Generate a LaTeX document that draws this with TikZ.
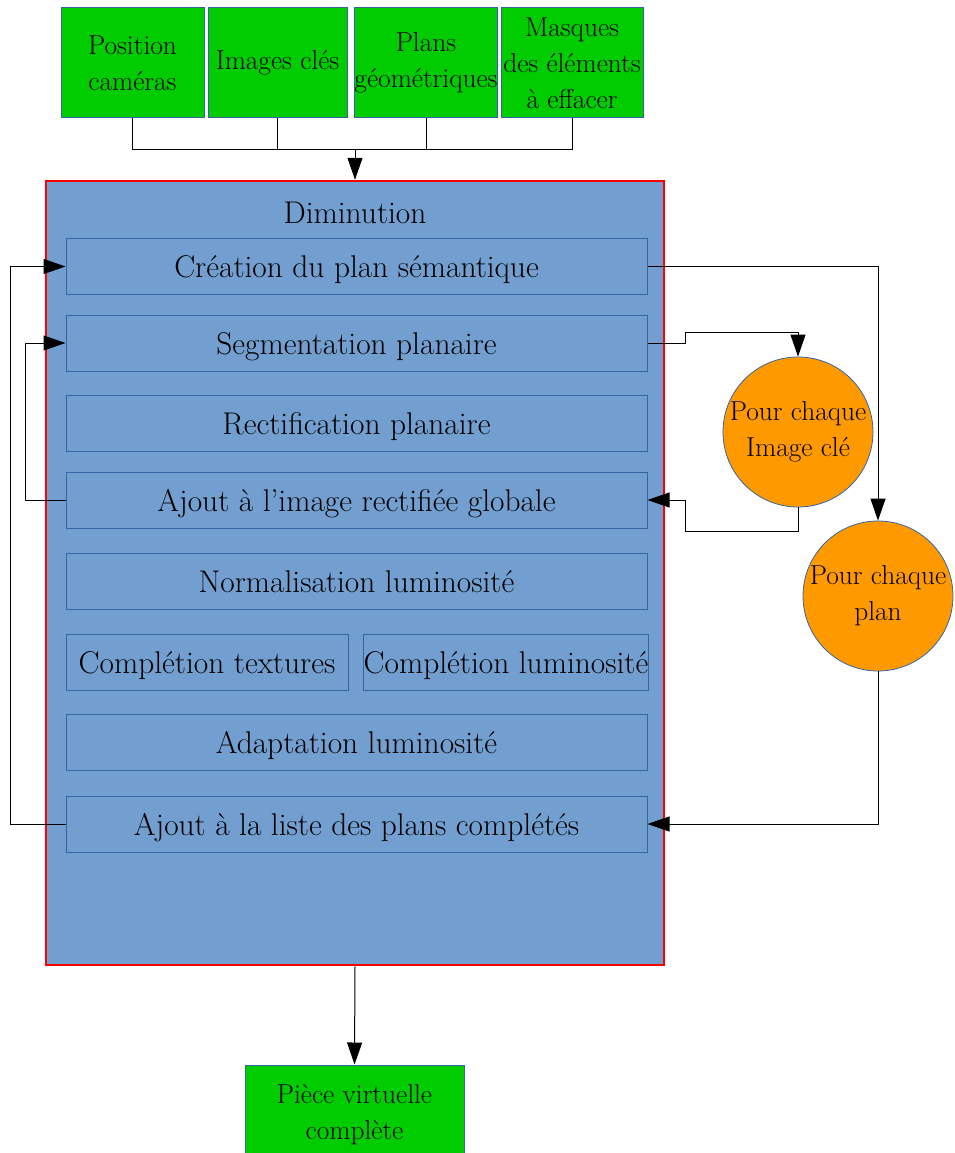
\documentclass[tikz,border=0pt]{standalone}
\usetikzlibrary{arrows.meta}
\definecolor{vert}{HTML}{00CC00}
\definecolor{orangec}{HTML}{FF9900}
\definecolor{bleu}{HTML}{729FCF}
\definecolor{bleuf}{HTML}{3465A4}
\newcommand\fsm{\fontsize{27.4}{36}\selectfont}
\newcommand\flg{\fontsize{31.4}{36}\selectfont}
\begin{document}
\begin{tikzpicture}[x=1pt,y=-1pt,
  greenbox/.style={draw=bleuf, line width=1pt, fill=vert, inner sep=0pt, align=center, font=\fsm, minimum height=110pt},
  bigbox/.style={draw=red, line width=2.5pt, fill=bleu, inner sep=0pt, minimum width=618pt, minimum height=784pt},
  stepbox/.style={draw=bleuf, line width=1pt, fill=bleu, inner sep=0pt, font=\flg, minimum width=581pt, minimum height=56pt, text height=22pt, text depth=0pt},
  halfbox/.style={stepbox, minimum width=282pt},
  loopcirc/.style={circle, draw=bleuf, line width=0.8pt, fill=orangec, inner sep=0pt, minimum size=150pt, align=center, font=\fsm},
  arr/.style={draw=black, line width=1pt, -{Triangle[length=22pt,width=15pt]}},
  ln/.style={draw=black, line width=1pt}]
\useasboundingbox (0,0) rectangle (954,1153);
% inputs
\node[greenbox, minimum width=143pt] (pos) at (132.5,63) {Position\\caméras};
\node[greenbox, minimum width=139pt] (img) at (277.5,63) {Images clés};
\node[greenbox, minimum width=142pt] (geo) at (426,63) {Plans\\géométriques};
\node[greenbox, minimum width=142pt] (mas) at (572,63) {Masques\\des éléments\\à effacer};
% main box
\node[bigbox] (dim) at (355,573) {};
\node[font=\flg] (dimt) at (355,213) {Diminution};
\node[stepbox] (r1) at (356.5,266.5) {Création du plan sémantique};
\node[stepbox] (r2) at (356.5,343) {Segmentation planaire};
\node[stepbox] (r3) at (356.5,423.5) {Rectification planaire};
\node[stepbox] (r4) at (356.5,500) {Ajout à l’image rectifiée globale};
\node[stepbox] (r5) at (356.5,581) {Normalisation luminosité};
\node[halfbox] (r6a) at (207,662) {Complétion textures};
\node[halfbox] (r6b) at (506,662) {Complétion luminosité};
\node[stepbox] (r7) at (356.5,742.5) {Adaptation luminosité};
\node[stepbox] (r8) at (356.5,824) {Ajout à la liste des plans complétés};
% loops
\node[loopcirc] (c1) at (798,432) {Pour chaque\\Image clé};
\node[loopcirc] (c2) at (878,596) {Pour chaque\\plan};
% output
\node[greenbox, minimum width=219pt, minimum height=100pt] (out) at (354.5,1115) {Pièce virtuelle\\complète};
% connectors
\coordinate (j) at (355,149);
\draw[ln] (pos.south) |- (j);
\draw[ln] (img.south) |- (j);
\draw[ln] (geo.south) |- (j);
\draw[ln] (mas.south) |- (j);
\draw[arr] (j) -- (dim.north);
\draw[arr] (r1.east) -| (c2.north);
\draw[arr] (r2.east) -- ++(38,0) -- ++(0,-11) -| (c1.north);
\draw[arr] (c1.south) -- ++(0,24) -| ([xshift=38pt]r4.east) -- (r4.east);
\draw[arr] (c2.south) |- (r8.east);
\draw[arr] (r8.west) -- ++(-55,0) |- (r1.west);
\draw[arr] (r4.west) -- ++(-40,0) |- (r2.west);
\draw[arr] (dim.south) -- (out.north);
\end{tikzpicture}
\end{document}
